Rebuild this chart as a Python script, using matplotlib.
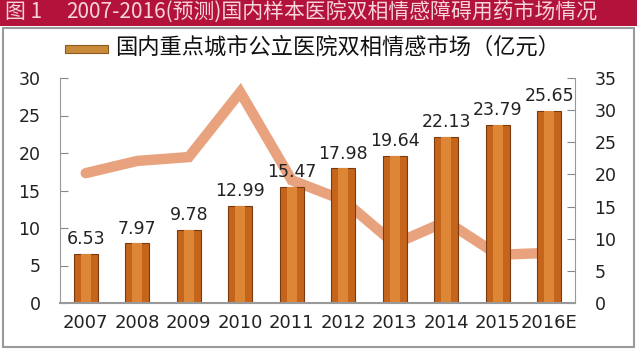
import numpy as np
import matplotlib
matplotlib.use("Agg")
import matplotlib.pyplot as plt
from matplotlib.patches import Rectangle

plt.rcParams['font.family'] = ['DejaVu Sans', 'Noto Sans CJK SC']

# dados ---------------------------------------------------------
anos = ['2007', '2008', '2009', '2010', '2011', '2012', '2013', '2014', '2015', '2016E']
mercado = [6.53, 7.97, 9.78, 12.99, 15.47, 17.98, 19.64, 22.13, 23.79, 25.65]
crescimento = [20.2, 22.1, 22.7, 32.8, 19.1, 16.0, 9.2, 12.7, 7.5, 7.8]

titulo_num = '图 1'
titulo = '2007-2016(预测)国内样本医院双相情感障碍用药市场情况'
legenda = '国内重点城市公立医院双相情感市场（亿元）'

fig = plt.figure(figsize=(6.37, 3.51), dpi=100)

# faixa vermelha do titulo
fig.patches.append(Rectangle((0, 1 - 26 / 351), 1, 26 / 351, transform=fig.transFigure,
                             facecolor='#b3133a', edgecolor='none', zorder=0))
fig.text(5 / 637, 1 - 12 / 351, titulo_num, color='#f7d3dc', fontsize=15, va='center', ha='left',
         family=['Noto Sans CJK SC', 'DejaVu Sans'])
fig.text(66 / 637, 1 - 12 / 351, titulo, color='#f7d3dc', fontsize=15, va='center', ha='left',
         family=['Noto Sans CJK SC', 'DejaVu Sans'])

# caixa cinzenta
fig.patches.append(Rectangle((3 / 637, 1 - 347 / 351), 631 / 637, 319 / 351, transform=fig.transFigure,
                             facecolor='none', edgecolor='#9a9a9a', linewidth=1.5, zorder=0))

ax = fig.add_axes([60 / 637, 1 - 303 / 351, 515 / 637, 225 / 351])
x = np.arange(len(anos))

ax.bar(x, mercado, width=0.46, color='#c5651c', edgecolor='#7a3a10', linewidth=0.8, zorder=2)
ax.bar(x, mercado, width=0.2, color='#dd8736', edgecolor='none', zorder=2.1)
for xi, v in zip(x, mercado):
    ax.annotate(f'{v:.2f}', (xi, v), xytext=(0, 4), textcoords='offset points',
                ha='center', va='bottom', fontsize=12.5, color='#222222')

ax.set_xlim(-0.5, len(anos) - 0.5)
ax.set_ylim(0, 30)
ax.set_yticks(range(0, 31, 5))
ax.set_xticks(x, anos)
ax.tick_params(axis='x', length=0, labelsize=13, colors='#222222', pad=8)
ax.tick_params(axis='y', direction='in', length=6, labelsize=12.5, labelcolor='#222222', color='#888888', pad=14)
for s in ['top', 'right']:
    ax.spines[s].set_visible(False)
for s in ['left', 'bottom']:
    ax.spines[s].set_color('#999999')
ax.spines['bottom'].set_linewidth(1.5)

ax2 = ax.twinx()
ax2.plot(x, crescimento, color='#e9a27e', linewidth=7.5, solid_capstyle='round',
         solid_joinstyle='miter', zorder=3)
ax2.set_ylim(0, 35)
ax2.set_yticks(range(0, 36, 5))
ax2.tick_params(axis='y', direction='in', length=6, labelsize=12.5, labelcolor='#222222', color='#888888', pad=14)
for s in ['top', 'left', 'bottom']:
    ax2.spines[s].set_visible(False)
ax2.spines['right'].set_color('#999999')
ax.set_zorder(ax2.get_zorder() + 1)
ax.patch.set_visible(False)

# legenda
fig.patches.append(Rectangle((65 / 637, 1 - 53 / 351), 43 / 637, 8 / 351, transform=fig.transFigure,
                             facecolor='#c98a3a', edgecolor='#8a5a20', linewidth=0.8))
fig.text(115 / 637, 1 - 47 / 351, legenda, fontsize=16, va='center', ha='left', color='#111111',
         family=['Noto Sans CJK SC', 'DejaVu Sans'])

fig.savefig('out.png', dpi=100)
